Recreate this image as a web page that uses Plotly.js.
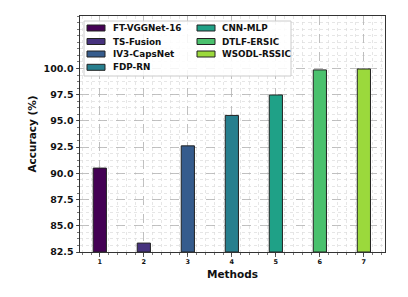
<!DOCTYPE html>
<html>
<head>
<meta charset="utf-8">
<script src="https://cdn.plot.ly/plotly-3.0.1.min.js"></script>
<style>html,body{margin:0;padding:0;background:#fff;}#chart{width:408px;height:297px;}</style>
</head>
<body>
<div id="chart"></div>
<script>
// ---- data ----
var methods = ["FT-VGGNet-16", "TS-Fusion", "IV3-CapsNet", "FDP-RN", "CNN-MLP", "DTLF-ERSIC", "WSODL-RSSIC"];
var positions = [1, 2, 3, 4, 5, 6, 7];
var accuracy = [90.5, 83.35, 92.62, 95.52, 97.47, 99.86, 99.95];
var colors = ["#440154", "#46327e", "#365c8d", "#277f8e", "#1fa187", "#4ac16d", "#9bd93c"];
var yTickVals = [82.5, 85.0, 87.5, 90.0, 92.5, 95.0, 97.5, 100.0];

// ---- layout geometry (pixels) ----
var W = 408, H = 297;
var mL = 80, mR = 23, mT = 16, mB = 45;
var plotW = W - mL - mR, plotH = H - mT - mB;
function px2x(px) { return (px - mL) / plotW; }
function py2y(py) { return (H - mB - py) / plotH; }

var font = "DejaVu Sans, Verdana, sans-serif";

var traces = methods.map(function (m, i) {
  return {
    type: "bar",
    x: [positions[i]],
    y: [accuracy[i] - 82.5],
    base: 82.5,
    width: 0.3,
    name: m,
    marker: { color: colors[i], line: { color: "#222", width: 1 } },
    showlegend: false,
    hoverinfo: "skip"
  };
});

// custom legend (two columns, column-major like the original)
var shapes = [];
var annotations = [];
var boxL = 84, boxR = 291, boxT = 21, boxB = 76;
shapes.push({
  type: "rect", xref: "paper", yref: "paper",
  x0: px2x(boxL), x1: px2x(boxR), y0: py2y(boxB), y1: py2y(boxT),
  fillcolor: "rgba(255,255,255,0.85)", line: { color: "#cccccc", width: 1 }, layer: "above"
});
var rowY = [28, 41.5, 54, 67.3];
var colSwatch = [87, 197];
var colText = [111, 220];
methods.forEach(function (m, i) {
  var col = i < 4 ? 0 : 1;
  var row = i < 4 ? i : i - 4;
  var cy = rowY[row];
  shapes.push({
    type: "rect", xref: "paper", yref: "paper",
    x0: px2x(colSwatch[col]), x1: px2x(colSwatch[col] + 18),
    y0: py2y(cy + 3), y1: py2y(cy - 3),
    fillcolor: colors[i], line: { color: "#222", width: 1 }, layer: "above"
  });
  annotations.push({
    xref: "paper", yref: "paper", x: px2x(colText[col]), y: py2y(cy),
    xanchor: "left", yanchor: "middle", showarrow: false, text: "<b>" + m + "</b>",
    font: { family: font, size: 8.8, color: "#111" }
  });
});

var layout = {
  width: W, height: H,
  margin: { l: mL, r: mR, t: mT, b: mB, pad: 0 },
  paper_bgcolor: "#fff", plot_bgcolor: "#fff",
  barmode: "overlay",
  showlegend: false,
  xaxis: {
    range: [0.55, 7.48],
    tickmode: "array", tickvals: positions, ticktext: positions.map(function (p) { return "<b>" + p + "</b>"; }),
    tickfont: { family: font, size: 6.5, color: "#111" },
    ticks: "outside", ticklen: 3.5, tickwidth: 0.8, tickcolor: "#333",
    showgrid: true, gridcolor: "#b4b4b4", griddash: "dash", gridwidth: 0.8,
    minor: { dtick: 0.2, tick0: 0, showgrid: true, gridcolor: "#dcdcdc", griddash: "dot", gridwidth: 0.7, ticks: "outside", ticklen: 2, tickcolor: "#555" },
    showline: true, linecolor: "#333", linewidth: 1, mirror: true,
    zeroline: false,
    title: { text: "<b>Methods</b>", font: { family: font, size: 10.5, color: "#111" }, standoff: 5 }
  },
  yaxis: {
    range: [82.5, 105],
    tickmode: "array", tickvals: yTickVals, ticktext: yTickVals.map(function (v) { return "<b>" + v.toFixed(1) + "</b>"; }),
    tickfont: { family: font, size: 9.5, color: "#111" },
    ticks: "outside", ticklen: 3.5, tickwidth: 0.8, tickcolor: "#333",
    showgrid: true, gridcolor: "#b4b4b4", griddash: "dash", gridwidth: 0.8,
    minor: { dtick: 0.625, tick0: 82.5, showgrid: true, gridcolor: "#dcdcdc", griddash: "dot", gridwidth: 0.7, ticks: "outside", ticklen: 2, tickcolor: "#555" },
    showline: true, linecolor: "#333", linewidth: 1, mirror: true,
    zeroline: false,
    title: { text: "<b>Accuracy (%)</b>", font: { family: font, size: 10.5, color: "#111" }, standoff: 4 }
  },
  shapes: shapes,
  annotations: annotations
};

Plotly.newPlot("chart", traces, layout, { displayModeBar: false, staticPlot: true });
</script>
</body>
</html>
